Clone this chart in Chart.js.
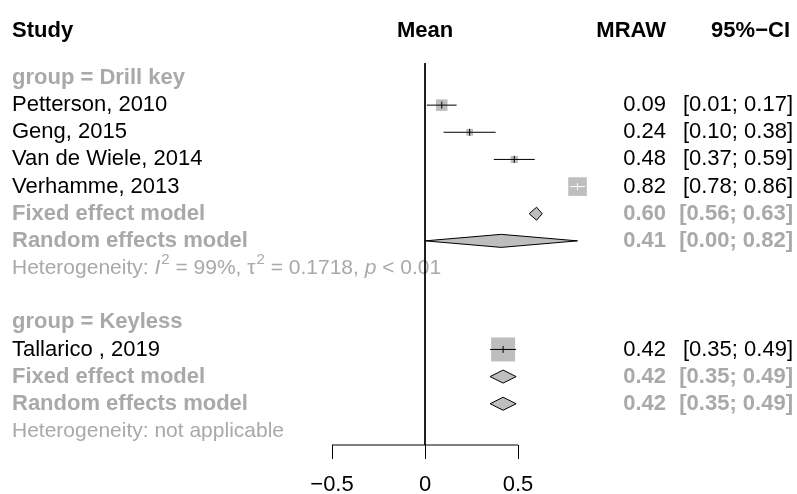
<!DOCTYPE html>
<html>
<head>
<meta charset="utf-8">
<script src="https://cdn.jsdelivr.net/npm/chart.js@4.4.0/dist/chart.umd.min.js"></script>
<style>
  html, body { margin: 0; padding: 0; background: #ffffff; }
  #forestContainer { width: 797px; height: 494px; }
</style>
</head>
<body>
<div id="forestContainer"><canvas id="forestChart"></canvas></div>
<script>
// Studies
const studyLabels = ['Petterson, 2010', 'Geng, 2015', 'Van de Wiele, 2014', 'Verhamme, 2013', 'Tallarico , 2019'];
const studyGroup = [0, 0, 0, 0, 1];
const studyMean = [0.09, 0.24, 0.48, 0.82, 0.42];
const studyLower = [0.01, 0.10, 0.37, 0.78, 0.35];
const studyUpper = [0.17, 0.38, 0.59, 0.86, 0.49];
const studyWeight = [23, 8, 9, 60, 100]; // % weight within subgroup

// Subgroups
const groupLabels = ['group = Drill key', 'group = Keyless'];
const fixedMean = [0.60, 0.42];
const fixedLower = [0.56, 0.35];
const fixedUpper = [0.63, 0.49];
const randomMean = [0.41, 0.42];
const randomLower = [0.00, 0.35];
const randomUpper = [0.82, 0.49];
const hetI2 = ['99%', null];
const hetTau2 = ['0.1718', null];
const hetP = ['< 0.01', null];

// Axis
const tickValues = [-0.5, 0, 0.5];

const FONT = "'Liberation Sans', Arial, sans-serif";
const GRAY = '#a9a9a9';
const SQUARE = '#bebebe';
const diamondHalf = 0.24; // half height of a diamond, in rows

/* Works out which row each line of the plot sits on
*/
const buildRows = () => {
    let row = 0;
    const rows = { group: [], study: [], fixed: [], random: [], het: [] };
    groupLabels.forEach((g, gi) => {
        rows.group[gi] = row++;
        studyLabels.forEach((s, si) => {
            if (studyGroup[si] === gi) rows.study[si] = row++;
        });
        rows.fixed[gi] = row++;
        rows.random[gi] = row++;
        rows.het[gi] = row++;
        row++; // blank line between groups
    });
    rows.header = -1.75;
    return rows;
}

const rows = buildRows();

const squareSide = (i) => 24 * Math.sqrt(studyWeight[i] / 100);

// white whisker when the CI fits inside the square
const whiskerColor = (chart, i) => {
    const x = chart.scales.x;
    const w = x.getPixelForValue(studyUpper[i]) - x.getPixelForValue(studyLower[i]);
    return w < squareSide(i) ? '#ffffff' : '#000000';
}

const diamond = (m, l, u, r) => [
    { x: l, y: r }, { x: m, y: r - diamondHalf }, { x: u, y: r },
    { x: m, y: r + diamondHalf }, { x: l, y: r }
];

/* Draws the text columns of the forest plot
*/
const textPlugin = {
    id: 'forestText',
    beforeDatasetsDraw(chart) {
        const ctx = chart.ctx;
        const y = chart.scales.y;
        const x = chart.scales.x;
        const colMean = 666;
        const colCI = 793;

        const put = (txt, px, row, align, bold, color, size) => {
            ctx.font = (bold ? 'bold ' : '') + (size || 22) + 'px ' + FONT;
            ctx.fillStyle = color;
            ctx.textAlign = align;
            ctx.textBaseline = 'middle';
            ctx.fillText(txt, px, y.getPixelForValue(row));
        };
        const ci = (l, u) => '[' + l.toFixed(2) + '; ' + u.toFixed(2) + ']';

        ctx.save();

        // header
        put('Study', 12, rows.header, 'left', true, '#000');
        put('Mean', x.getPixelForValue(0), rows.header, 'center', true, '#000');
        put('MRAW', colMean, rows.header, 'right', true, '#000');
        put('95%\u2212CI', 790, rows.header, 'right', true, '#000');

        groupLabels.forEach((g, gi) => {
            put(g, 12, rows.group[gi], 'left', true, GRAY);

            studyLabels.forEach((s, si) => {
                if (studyGroup[si] !== gi) return;
                put(s, 12, rows.study[si], 'left', false, '#000');
                put(studyMean[si].toFixed(2), colMean, rows.study[si], 'right', false, '#000');
                put(ci(studyLower[si], studyUpper[si]), colCI, rows.study[si], 'right', false, '#000');
            });

            put('Fixed effect model', 12, rows.fixed[gi], 'left', true, GRAY);
            put(fixedMean[gi].toFixed(2), colMean, rows.fixed[gi], 'right', true, GRAY);
            put(ci(fixedLower[gi], fixedUpper[gi]), colCI, rows.fixed[gi], 'right', true, GRAY);

            put('Random effects model', 12, rows.random[gi], 'left', true, GRAY);
            put(randomMean[gi].toFixed(2), colMean, rows.random[gi], 'right', true, GRAY);
            put(ci(randomLower[gi], randomUpper[gi]), colCI, rows.random[gi], 'right', true, GRAY);

            // heterogeneity line, built from pieces
            let pieces;
            if (hetI2[gi] === null) {
                pieces = [['Heterogeneity: not applicable', '']];
            } else {
                pieces = [
                    ['Heterogeneity: ', ''], ['I', 'italic '], ['2', 'sup'],
                    [' = ' + hetI2[gi] + ', \u03c4', ''], ['2', 'sup'],
                    [' = ' + hetTau2[gi] + ', ', ''], ['p', 'italic '], [' ' + hetP[gi], '']
                ];
            }
            let px = 12;
            const py = y.getPixelForValue(rows.het[gi]);
            ctx.fillStyle = GRAY;
            ctx.textAlign = 'left';
            ctx.textBaseline = 'middle';
            pieces.forEach(([t, style]) => {
                if (style === 'sup') {
                    ctx.font = '15px ' + FONT;
                    ctx.fillText(t, px + 1, py - 8);
                } else {
                    ctx.font = style + '21px ' + FONT;
                    ctx.fillText(t, px, py);
                }
                px += ctx.measureText(t).width + (style === 'sup' ? 1 : 0);
            });
        });

        ctx.restore();
    }
};

/* Builds the forest plot
*/
const buildForest = () => {

    const datasets = [];

    // small vertical tick at each study estimate
    datasets.push({
        type: 'scatter',
        data: studyMean.map((m, i) => ({ x: m, y: rows.study[i] })),
        pointStyle: 'line',
        rotation: 90,
        pointRadius: 3.5,
        borderWidth: 1,
        borderColor: (c) => whiskerColor(c.chart, c.dataIndex),
        order: 0
    });

    // confidence intervals
    studyMean.forEach((m, i) => {
        datasets.push({
            type: 'scatter',
            showLine: true,
            data: [{ x: studyLower[i], y: rows.study[i] }, { x: studyUpper[i], y: rows.study[i] }],
            borderColor: (c) => whiskerColor(c.chart, i),
            borderWidth: 1,
            pointRadius: 0,
            order: 1
        });
    });

    // weight squares
    datasets.push({
        type: 'scatter',
        data: studyMean.map((m, i) => ({ x: m, y: rows.study[i] })),
        pointStyle: 'rect',
        pointRadius: studyMean.map((m, i) => squareSide(i) / Math.SQRT2),
        backgroundColor: SQUARE,
        borderWidth: 0,
        order: 2
    });

    // pooled diamonds
    groupLabels.forEach((g, gi) => {
        [[fixedMean, fixedLower, fixedUpper, rows.fixed], [randomMean, randomLower, randomUpper, rows.random]]
            .forEach(([m, l, u, r]) => {
                datasets.push({
                    type: 'scatter',
                    showLine: true,
                    data: diamond(m[gi], l[gi], u[gi], r[gi]),
                    fill: 'shape',
                    backgroundColor: SQUARE,
                    borderColor: '#000000',
                    borderWidth: 1,
                    pointRadius: 0,
                    order: 1
                });
            });
    });

    // line of no effect
    datasets.push({
        type: 'scatter',
        showLine: true,
        data: [{ x: 0, y: -0.55 }, { x: 0, y: 13.52 }],
        borderColor: '#000000',
        borderWidth: 1,
        pointRadius: 0,
        order: 3
    });

    // x axis line
    datasets.push({
        type: 'scatter',
        showLine: true,
        data: [{ x: tickValues[0], y: 13.52 }, { x: tickValues[tickValues.length - 1], y: 13.52 }],
        borderColor: '#000000',
        borderWidth: 1,
        pointRadius: 0,
        order: 3
    });

    datasets.forEach(d => { d.clip = false; });

    const config = {
        type: 'scatter',
        data: { datasets: datasets },
        options: {
            responsive: true,
            maintainAspectRatio: false,
            animation: false,
            events: [],
            layout: { padding: 0, autoPadding: false },
            plugins: { legend: { display: false }, tooltip: { enabled: false } },
            scales: {
                x: {
                    type: 'linear',
                    min: -2.285,
                    max: 2.0,
                    afterBuildTicks: (axis) => { axis.ticks = tickValues.map(v => ({ value: v })); },
                    afterFit: (axis) => { axis.height = 49; },
                    border: { display: false },
                    grid: { drawOnChartArea: false, drawTicks: true, tickLength: 14, color: '#000000', lineWidth: 1 },
                    ticks: {
                        autoSkip: false,
                        maxRotation: 0,
                        padding: 13,
                        color: '#000000',
                        font: { family: FONT, size: 22 },
                        callback: (v) => v < 0 ? '\u2212' + Math.abs(v) : String(v)
                    }
                },
                y: {
                    type: 'linear',
                    display: false,
                    reverse: true,
                    min: -2.873,
                    max: 13.52
                }
            }
        },
        plugins: [textPlugin]
    };

    const ctx = document.getElementById('forestChart').getContext('2d');
    const forestChart = new Chart(ctx, config);
}

document.addEventListener('DOMContentLoaded', () => {
    buildForest();
});
</script>
</body>
</html>
